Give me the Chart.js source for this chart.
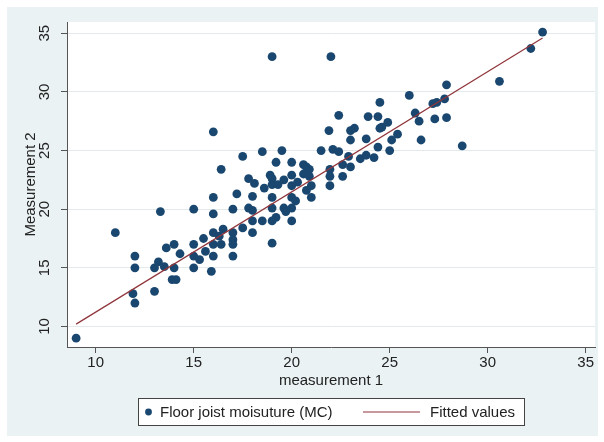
<!DOCTYPE html>
<html>
<head>
<meta charset="utf-8">
<script src="https://cdn.jsdelivr.net/npm/chart.js@4.4.1/dist/chart.umd.min.js"></script>
<style>
html,body{margin:0;padding:0;background:#fff;}
#wrap{width:604px;height:442px;position:relative;}
canvas{display:block;}
</style>
</head>
<body>
<div id="wrap"><canvas id="c" width="604" height="442"></canvas></div>
<script>
// ---- data ----
const xTitle = 'measurement 1';
const yTitle = 'Measurement 2';
const seriesNames = ['Floor joist moisuture (MC)', 'Fitted values'];
const xTicks = [10, 15, 20, 25, 30, 35];
const yTicks = [10, 15, 20, 25, 30, 35];

const measurement1 = [
  9, 11, 12, 12, 11.9, 12, 13, 13, 13.2, 13.5, 13.3, 13.6, 14, 14, 13.9, 14.1, 14.3,
  15, 15, 15, 15, 15.3, 15.5, 15.6, 15.9, 16, 16, 16, 16, 16, 16.3, 16.4, 16.5,
  17, 17, 17, 17, 17, 17.2, 17.5, 17.8, 18, 18, 18, 18,
  16, 16.4, 17.5, 18.5, 19.5, 19.2, 20, 17.8, 18.1, 18.9, 19, 18.6, 19, 19.3, 19.6,
  20, 20, 20.3, 20.6, 20.75, 20.9, 20.6, 20.9, 20.75, 21, 21, 20, 20.2, 19.6, 19.7,
  20, 20, 19, 19, 19.2, 19, 18.5, 19, 19, 22,
  21.9, 22.4, 23, 23.2, 23, 21.5, 22.1, 22.4, 21.95, 21.95, 21.95, 22.6, 22.6, 22.9,
  23, 23.5, 23.8, 24.2, 23.8, 24.4, 25, 23.9, 24.4, 24.9, 24.6, 24.5, 25.4, 25.1,
  24.5, 26, 26.3, 26.5, 26.6, 27.3, 27.9, 27.2, 27.4, 27.8, 27.9, 28.7, 30.6, 32.2, 32.8
];
const measurement2 = [
  9, 18, 16, 15, 12.8, 12, 13, 15, 15.5, 15.1, 19.8, 16.7, 17, 15, 14, 14, 16.2,
  20, 17, 16, 15, 15.7, 17.5, 16.4, 14.7, 21, 19.6, 18, 17, 16, 17.7, 17, 18.3,
  20, 18, 17.4, 17, 16, 21.3, 18.4, 20.1, 19.9, 19, 18, 21.1,
  26.6, 23.4, 24.5, 24.9, 25, 24, 24, 22.6, 22.2, 22.9, 22.6, 21.8, 22.1, 22.1, 22.5,
  22.9, 22, 22.3, 23.8, 23.6, 23.4, 23, 22.8, 21.6, 22, 21, 21, 20.7, 20.1, 19.8,
  20.1, 19, 21, 20.1, 19.3, 19, 19, 17.1, 33, 33,
  26.7, 28, 26.7, 26.9, 25.9, 25, 25.1, 24.9, 23.4, 22.8, 22, 23.8, 22.8, 24.5,
  23.6, 24.3, 24.6, 24.4, 26, 25.3, 25, 27.9, 27.9, 27.4, 27, 26.9, 26.4, 25.9,
  29.1, 29.7, 28.2, 27.5, 25.9, 27.7, 27.8, 29, 29.1, 29.4, 30.6, 25.4, 30.9, 33.7, 35.1
];
const fittedX = [9.0, 32.8];
const fittedY = [10.2, 34.6];

// ---- styles ----
const FONT = '"Liberation Sans", Arial, Helvetica, sans-serif';
const NAVY = '#1a476f';
const MAROON = '#90353b';
const TEXT = '#222222';
const AXIS = '#555555';
const GRID = '#e2eaeb';
const OUTER = '#eaf2f3';

const bgPlugin = {
  id: 'bg',
  beforeDraw(chart) {
    const {ctx, chartArea: a} = chart;
    ctx.save();
    ctx.fillStyle = '#ffffff';
    ctx.fillRect(0, 0, chart.width, chart.height);
    ctx.fillStyle = OUTER;
    ctx.fillRect(7, 7, 591, 429);
    ctx.fillStyle = '#ffffff';
    ctx.fillRect(a.left, a.top, a.right - a.left, a.bottom - a.top);
    ctx.restore();
  }
};

const legendPlugin = {
  id: 'boxLegend',
  afterDraw(chart) {
    const ctx = chart.ctx;
    const ds = chart.data.datasets;
    ctx.save();
    ctx.fillStyle = '#ffffff';
    ctx.fillRect(138, 398, 386, 28);
    ctx.strokeStyle = '#444444';
    ctx.lineWidth = 1;
    ctx.strokeRect(138.5, 398.5, 386, 27);
    const cy = 412;
    ctx.fillStyle = NAVY;
    ctx.beginPath();
    ctx.arc(148.5, cy, 3.4, 0, Math.PI * 2);
    ctx.fill();
    ctx.strokeStyle = MAROON;
    ctx.lineWidth = 1.2;
    ctx.beginPath();
    ctx.moveTo(363, cy);
    ctx.lineTo(420, cy);
    ctx.stroke();
    ctx.fillStyle = TEXT;
    ctx.font = '15px ' + FONT;
    ctx.textBaseline = 'middle';
    ctx.textAlign = 'left';
    ctx.fillText(ds[0].label, 160, cy + 1);
    ctx.fillText(ds[1].label, 430, cy + 1);
    ctx.restore();
  }
};

new Chart(document.getElementById('c'), {
  type: 'scatter',
  data: {
    datasets: [
      {
        label: seriesNames[0],
        data: measurement1.map((x, i) => ({x: x, y: measurement2[i]})),
        backgroundColor: NAVY,
        borderWidth: 0,
        pointRadius: 4.4,
        pointHoverRadius: 4.4,
        order: 1
      },
      {
        label: seriesNames[1],
        data: fittedX.map((x, i) => ({x: x, y: fittedY[i]})),
        showLine: true,
        borderColor: MAROON,
        borderWidth: 1.2,
        pointRadius: 0,
        fill: false,
        order: 0
      }
    ]
  },
  options: {
    responsive: false,
    animation: false,
    devicePixelRatio: 1,
    events: [],
    layout: {padding: {left: 0, right: 9, top: 22, bottom: 0}},
    plugins: {legend: {display: false}, tooltip: {enabled: false}, title: {display: false}},
    scales: {
      x: {
        type: 'linear', position: 'bottom', min: 8.535, max: 35.475,
        afterBuildTicks: s => { s.ticks = xTicks.map(v => ({value: v})); },
        afterFit: s => { s.height = 95; },
        grid: {drawOnChartArea: false, drawTicks: true, tickLength: 6, tickColor: AXIS, tickWidth: 1},
        border: {display: true, color: AXIS, width: 1},
        ticks: {font: {family: FONT, size: 15}, color: TEXT, padding: 1, minRotation: 0, maxRotation: 0, autoSkip: false},
        title: {display: true, text: xTitle, font: {family: FONT, size: 15}, color: TEXT, padding: {top: 0, bottom: 52}}
      },
      y: {
        type: 'linear', position: 'left', min: 8.25, max: 35.96,
        afterBuildTicks: s => { s.ticks = yTicks.map(v => ({value: v})); },
        afterFit: s => { s.width = 67; },
        grid: {drawOnChartArea: true, color: GRID, lineWidth: 1, drawTicks: true, tickLength: 6, tickColor: AXIS, tickWidth: 1},
        border: {display: true, color: AXIS, width: 1},
        ticks: {font: {family: FONT, size: 15}, color: TEXT, padding: 8, minRotation: 90, maxRotation: 90, crossAlign: 'center', autoSkip: false},
        title: {display: true, text: yTitle, font: {family: FONT, size: 15}, color: TEXT, padding: {top: 22, bottom: 0}}
      }
    }
  },
  plugins: [bgPlugin, legendPlugin]
});
</script>
</body>
</html>
